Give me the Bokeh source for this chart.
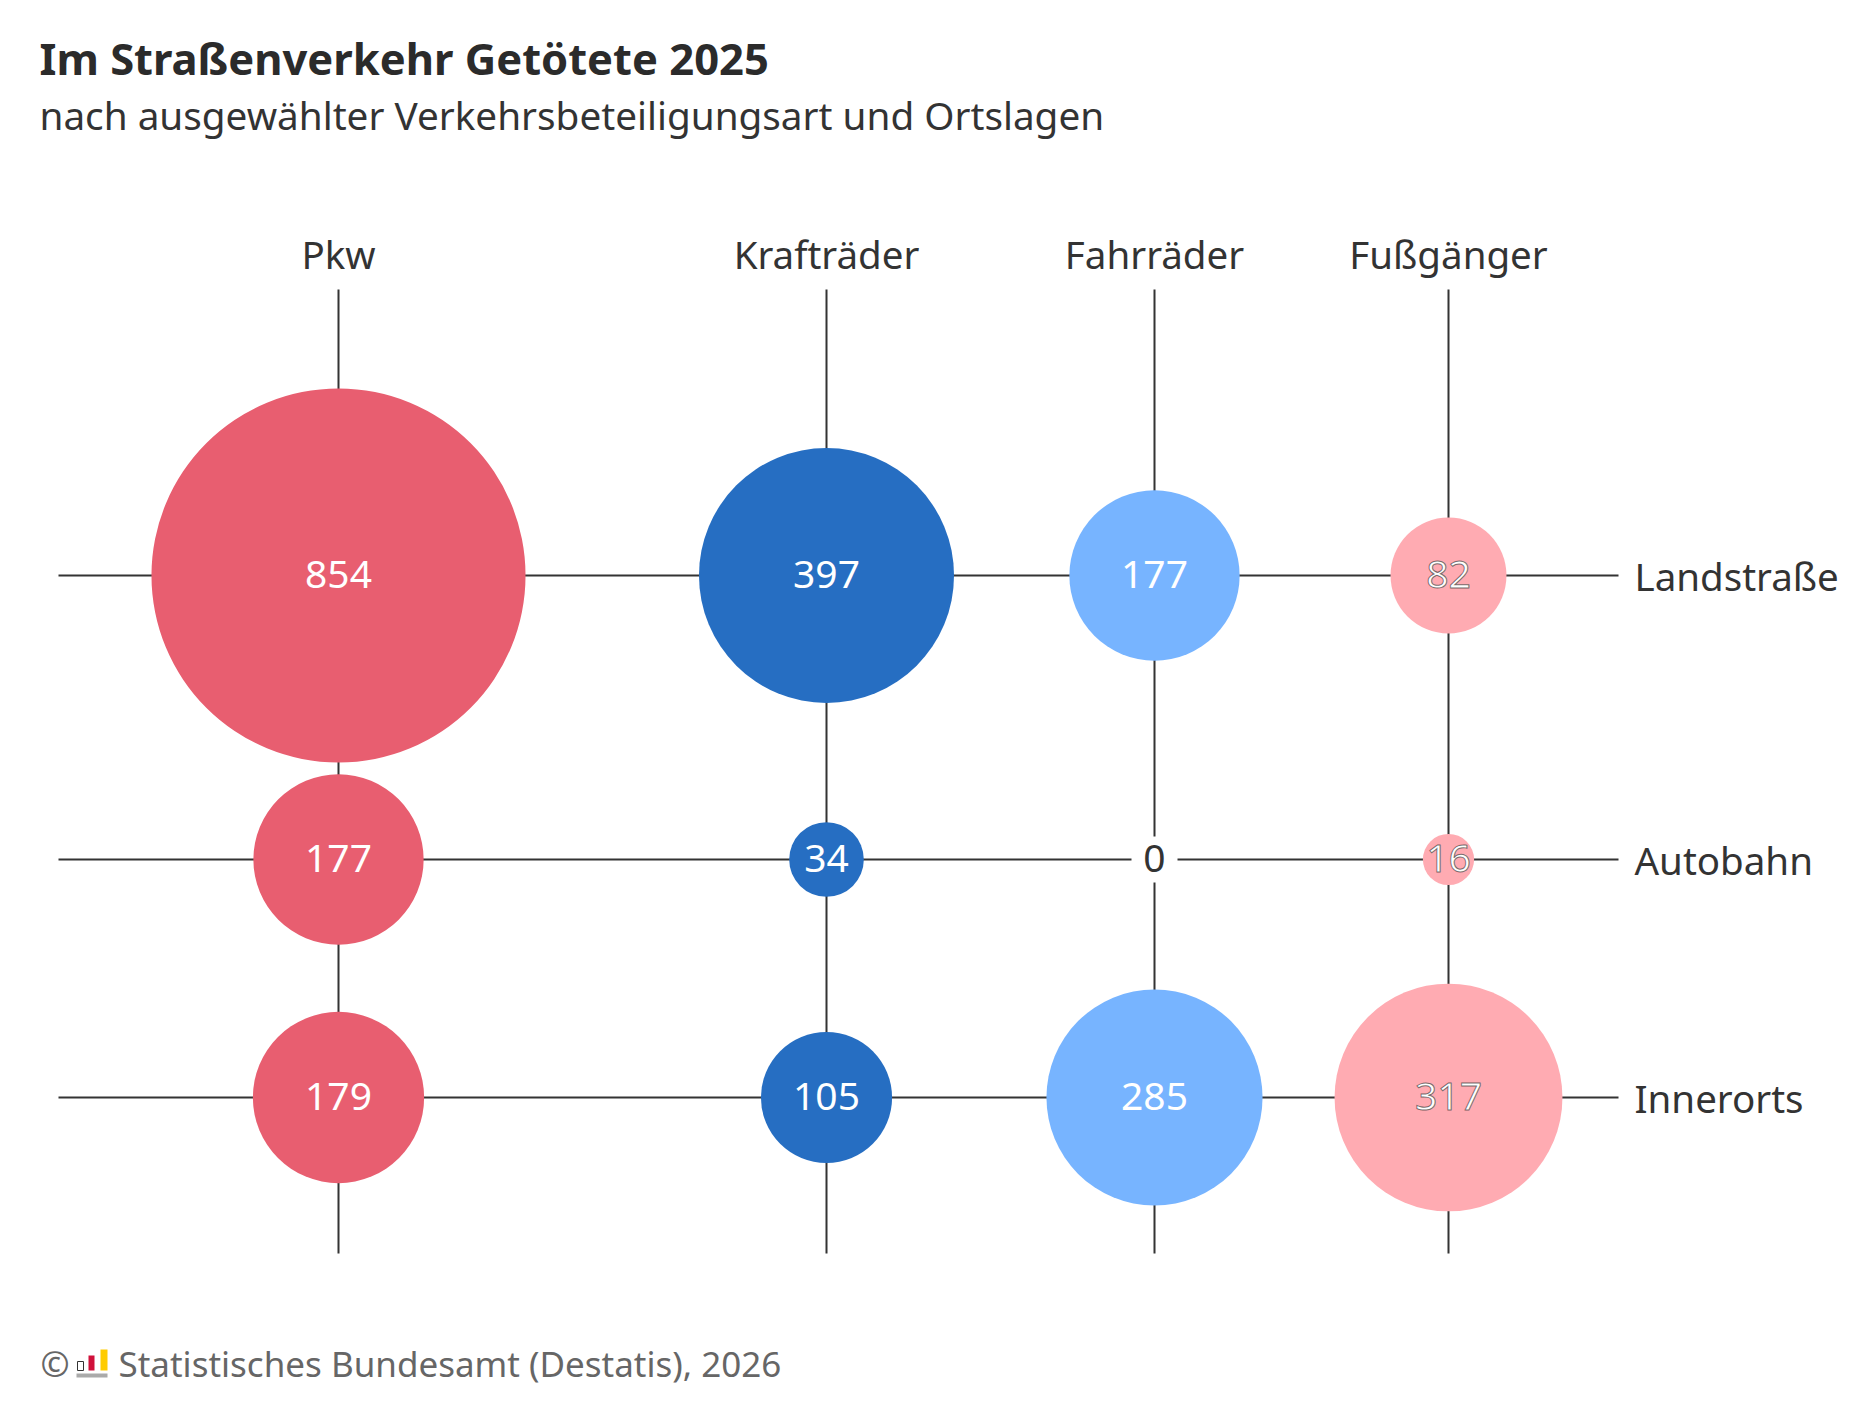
import numpy as np
from bokeh.plotting import figure
from bokeh.models import Range1d, Label, ColumnDataSource
from bokeh.core.properties import value
from bokeh.embed import file_html
from bokeh.resources import INLINE

# ---- data ----
categories = ["Pkw", "Krafträder", "Fahrräder", "Fußgänger"]
locations = ["Landstraße", "Autobahn", "Innerorts"]
landstrasse = [854, 397, 177, 82]
autobahn = [177, 34, 0, 16]
innerorts = [179, 105, 285, 317]
colors = ["#e85e70", "#266ec2", "#77b4ff", "#ffabb2"]

title = "Im Straßenverkehr Getötete 2025"
subtitle = "nach ausgewählter Verkehrsbeteiligungsart und Ortslagen"
footer = "Statistisches Bundesamt (Destatis), 2026"

# ---- layout (pixel space) ----
W, H = 1875, 1416
col_x = [338, 826, 1154, 1448]
row_y = [575, 859, 1097]
k = 12.8  # diameter px per sqrt(value)
FONT = "Noto Sans"
DARK = "#333333"
SHIFT = 0.385  # baseline correction (fraction of font size)


def base(y, fs):
    return y - SHIFT * fs


p = figure(width=W, height=H, x_range=Range1d(0, W), y_range=Range1d(H, 0),
           output_backend="svg", toolbar_location=None, min_border=0)
p.axis.visible = False
p.grid.visible = False
p.outline_line_color = None
p.background_fill_color = "white"
p.border_fill_color = "white"

# grid lines
p.segment(x0=[58] * 3, x1=[1618] * 3, y0=row_y, y1=row_y, line_color=DARK, line_width=2)
p.segment(x0=col_x, x1=col_x, y0=[289] * 4, y1=[1253] * 4, line_color=DARK, line_width=2)

rows = [landstrasse, autobahn, innerorts]
xs, ys, vals, cols, cats = [], [], [], [], []
for ri, row in enumerate(rows):
    for ci, v in enumerate(row):
        xs.append(col_x[ci]); ys.append(row_y[ri]); vals.append(v)
        cols.append(colors[ci]); cats.append(categories[ci])
vals = np.array(vals, dtype=float)
src = ColumnDataSource(dict(x=xs, y=ys, v=vals, size=k * np.sqrt(vals), color=cols))
p.scatter("x", "y", size="size", fill_color="color", line_color=None, source=src)

# zero markers: white box
zi = [i for i, v in enumerate(vals) if v == 0]
p.scatter([xs[i] for i in zi], [ys[i] for i in zi], marker="square", size=46,
          fill_color="white", line_color=None)

VFS = 39


def sub(idx):
    return ColumnDataSource(dict(x=[xs[i] for i in idx], y=[base(ys[i] + 14, VFS) for i in idx],
                                 t=[str(int(vals[i])) for i in idx]))


white_idx = [i for i, v in enumerate(vals) if v > 0 and cats[i] != "Fußgänger"]
out_idx = [i for i, v in enumerate(vals) if v > 0 and cats[i] == "Fußgänger"]

common = dict(text_font=value(FONT), text_font_size=f"{VFS}px", text_align="center",
              text_baseline="alphabetic")
p.text("x", "y", text="t", source=sub(white_idx), text_color="white", **common)
p.text("x", "y", text="t", source=sub(out_idx), text_color="white",
       text_outline_color="#333333aa", **common)
p.text("x", "y", text="t", source=sub(zi), text_color=DARK, **common)

LFS = 38.5
# column labels
for c, x in zip(categories, col_x):
    p.add_layout(Label(x=x, y=base(268, LFS), text=c, text_align="center",
                       text_baseline="alphabetic", text_font=FONT,
                       text_font_size=f"{LFS}px", text_color=DARK))
# row labels
for r, y in zip(locations, row_y):
    p.add_layout(Label(x=1634, y=base(y + 15, LFS), text=r, text_align="left",
                       text_baseline="alphabetic", text_font=FONT,
                       text_font_size=f"{LFS}px", text_color=DARK))

p.add_layout(Label(x=39, y=base(74, 43.5), text=title, text_font=FONT, text_font_style="bold",
                   text_font_size="43.5px", text_color="#2b2b2b", text_baseline="alphabetic"))
p.add_layout(Label(x=39, y=base(129, 38.7), text=subtitle, text_font=FONT,
                   text_font_size="38.7px", text_color=DARK, text_baseline="alphabetic"))

# footer
GRAY = "#666666"
FFS = 35
p.add_layout(Label(x=40, y=base(1376, FFS), text="©", text_font=FONT, text_font_size=f"{FFS}px",
                   text_color=GRAY, text_baseline="alphabetic"))
p.quad(left=[77, 88, 100], right=[83, 94, 107], top=[1361, 1355, 1349], bottom=[1370, 1370, 1370],
       fill_color=["white", "#d0113a", "#ffcc00"], line_color=["#333333", None, None], line_width=1)
p.quad(left=[76], right=[107], top=[1373], bottom=[1377], fill_color="#aaaaaa", line_color=None)
p.add_layout(Label(x=118, y=base(1376, FFS), text=footer, text_font=FONT, text_font_size=f"{FFS}px",
                   text_color=GRAY, text_baseline="alphabetic"))

open("out.html", "w").write(file_html(p, INLINE))
